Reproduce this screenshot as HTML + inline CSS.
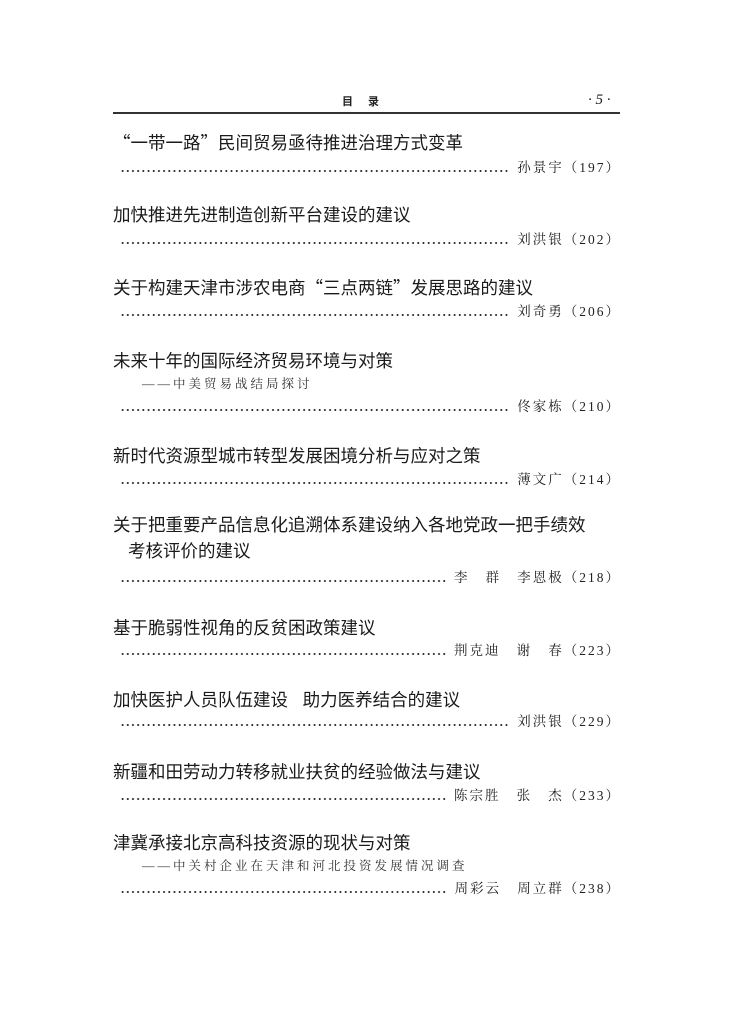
<!DOCTYPE html>
<html><head><meta charset="utf-8"><style>
body{margin:0;background:#fff;}
.p{position:relative;width:730px;height:1033px;background:#fff;color:#222;font-family:"Liberation Serif","Noto Serif CJK SC",serif;}
.t{position:absolute;left:113px;font-family:"Liberation Sans","Noto Sans CJK SC",sans-serif;font-size:17.5px;line-height:22px;white-space:nowrap;color:#1a1a1a;}
.q{font-family:"Noto Sans CJK SC",sans-serif;}
.s{position:absolute;left:142px;font-size:12.5px;letter-spacing:3px;line-height:16px;white-space:nowrap;color:#333;}
.d{position:absolute;left:120px;width:501px;height:18px;display:flex;align-items:center;font-size:13.5px;line-height:18px;white-space:nowrap;}
.d i{flex:1;height:2px;margin-right:8px;background-image:radial-gradient(circle,#333 0.9px,transparent 1.1px);background-size:5.2px 2px;background-repeat:repeat-x;margin-top:6px;}
.d b{font-weight:normal;letter-spacing:2px;}
</style></head><body><div class="p">
<div style="position:absolute;left:342px;top:93px;font-size:11px;font-weight:bold;font-family:'Noto Sans CJK SC',sans-serif;">目&nbsp;&nbsp;&nbsp;&nbsp;&nbsp;&nbsp;录</div>
<div style="position:absolute;left:588px;top:92px;font-size:15px;font-style:italic;">· 5 ·</div>
<div style="position:absolute;left:113px;top:112px;width:507px;height:1.5px;background:#333;"></div>

<div class="t" style="top:132px"><span class="q">“</span>一带一路<span class="q">”</span>民间贸易亟待推进治理方式变革</div>
<div class="d" style="top:159px"><i></i><b>孙景宇（197）</b></div>

<div class="t" style="top:204px">加快推进先进制造创新平台建设的建议</div>
<div class="d" style="top:231px"><i></i><b>刘洪银（202）</b></div>

<div class="t" style="top:277px">关于构建天津市涉农电商<span class="q">“</span>三点两链<span class="q">”</span>发展思路的建议</div>
<div class="d" style="top:303px"><i></i><b>刘奇勇（206）</b></div>

<div class="t" style="top:350px">未来十年的国际经济贸易环境与对策</div>
<div class="s" style="top:376px">——中美贸易战结局探讨</div>
<div class="d" style="top:398px"><i></i><b>佟家栋（210）</b></div>

<div class="t" style="top:445px">新时代资源型城市转型发展困境分析与应对之策</div>
<div class="d" style="top:471px"><i></i><b>薄文广（214）</b></div>

<div class="t" style="top:514px">关于把重要产品信息化追溯体系建设纳入各地党政一把手绩效</div>
<div class="t" style="top:540px;left:128px">考核评价的建议</div>
<div class="d" style="top:569px"><i></i><b>李&nbsp;&nbsp;&nbsp;群&nbsp;&nbsp;&nbsp;李恩极（218）</b></div>

<div class="t" style="top:617px">基于脆弱性视角的反贫困政策建议</div>
<div class="d" style="top:642px"><i></i><b>荆克迪&nbsp;&nbsp;&nbsp;谢&nbsp;&nbsp;&nbsp;春（223）</b></div>

<div class="t" style="top:689px">加快医护人员队伍建设&nbsp;&nbsp;&nbsp;助力医养结合的建议</div>
<div class="d" style="top:713px"><i></i><b>刘洪银（229）</b></div>

<div class="t" style="top:761px">新疆和田劳动力转移就业扶贫的经验做法与建议</div>
<div class="d" style="top:787px"><i></i><b>陈宗胜&nbsp;&nbsp;&nbsp;张&nbsp;&nbsp;&nbsp;杰（233）</b></div>

<div class="t" style="top:832px">津冀承接北京高科技资源的现状与对策</div>
<div class="s" style="top:858px">——中关村企业在天津和河北投资发展情况调查</div>
<div class="d" style="top:880px"><i></i><b>周彩云&nbsp;&nbsp;&nbsp;周立群（238）</b></div>
</div></body></html>
